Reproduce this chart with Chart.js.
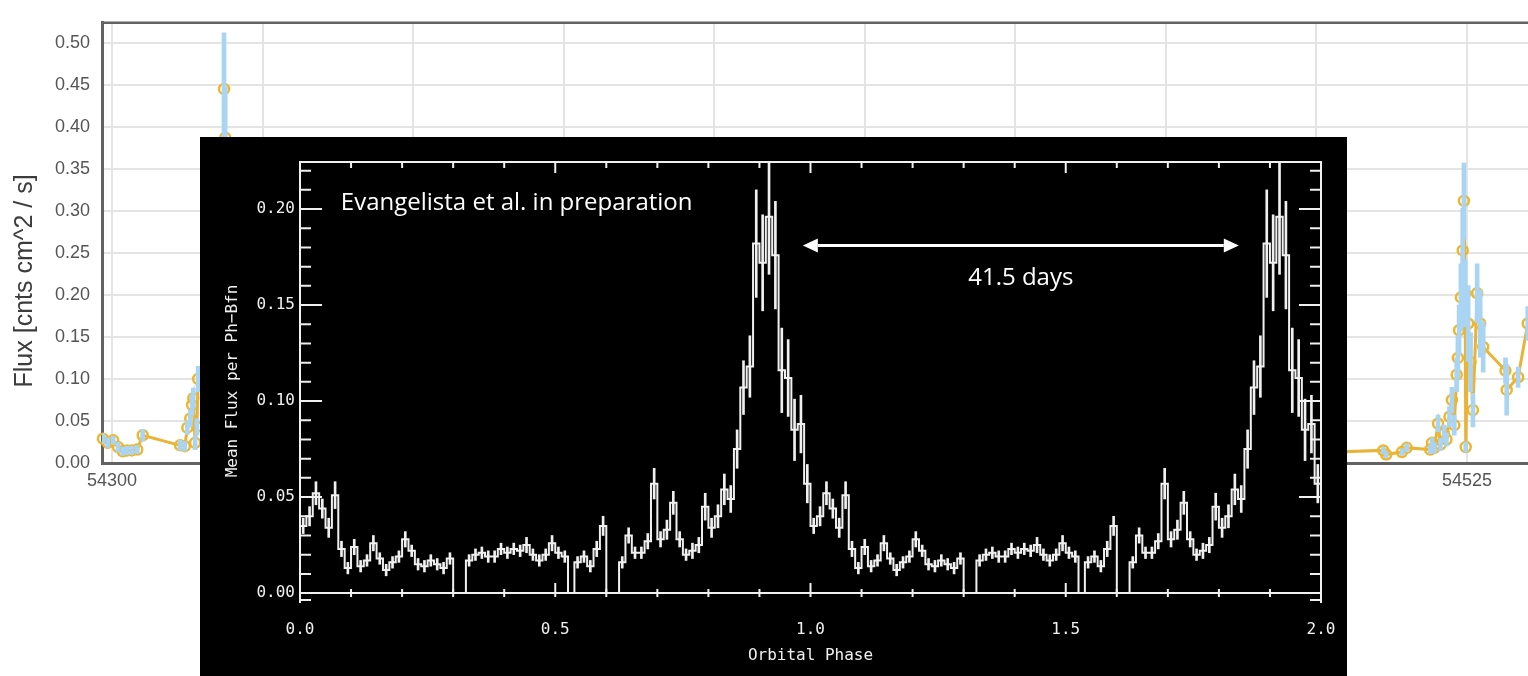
<!DOCTYPE html>
<html>
<head>
<meta charset="utf-8">
<title>Flux light curve and orbital phase profile</title>
<script src="https://cdn.jsdelivr.net/npm/chart.js@4.4.1/dist/chart.umd.min.js"></script>
<style>
  html, body { margin: 0; padding: 0; background: #fff; overflow: hidden; }
  #wrap { position: relative; width: 1528px; height: 676px; }
  #lightCurve { position: absolute; left: 0; top: 0; }
  #phasePanel { position: absolute; left: 200px; top: 137px; background: #000; }
</style>
</head>
<body>
<div id="wrap">
  <canvas id="lightCurve" width="1528" height="676"></canvas>
  <canvas id="phasePanel" width="1147" height="539"></canvas>
</div>
<script>
// light curve: MJD, flux and 1-sigma errors
const mjd = [
  54298.5, 54299.3, 54300.2, 54301.0, 54301.8, 54302.5, 54303.3, 54304.2, 54305.1,
  54311.3, 54312.1, 54312.5, 54313.0, 54313.3, 54313.5, 54313.8, 54314.1, 54314.3,
  54316.5, 54318.4, 54318.6, 54318.8, 54320.5, 54503.0,
  54511.1, 54511.6, 54514.2, 54515.0,
  54518.9, 54519.2, 54519.6, 54520.2, 54520.6, 54521.2, 54521.6, 54522.1, 54522.5,
  54522.9, 54523.3, 54523.5, 54523.7, 54524.0, 54524.3, 54524.5, 54524.7, 54524.8,
  54525.2, 54525.6, 54526.0, 54526.7, 54527.2, 54527.7, 54531.4, 54531.6, 54533.5,
  54535.1,
]
const flux = [
  0.029, 0.024, 0.027, 0.019, 0.014, 0.015, 0.015, 0.016, 0.033,
  0.021, 0.020, 0.042, 0.053, 0.069, 0.077, 0.024, 0.043, 0.100,
  0.160, 0.300, 0.445, 0.387, 0.060, 0.013,
  0.015, 0.010, 0.013, 0.018,
  0.016, 0.024, 0.018, 0.047, 0.022, 0.035, 0.028, 0.055, 0.075,
  0.045, 0.105, 0.125, 0.158, 0.197, 0.253, 0.312, 0.202, 0.019,
  0.166, 0.120, 0.063, 0.202, 0.166, 0.138, 0.110, 0.087, 0.102,
  0.166,
]
const fluxErr = [
  0.006, 0.006, 0.005, 0.006, 0.005, 0.005, 0.005, 0.005, 0.007,
  0.006, 0.006, 0.008, 0.010, 0.012, 0.012, 0.008, 0.010, 0.015,
  0.020, 0.040, 0.067, 0.060, 0.010, 0.004,
  0.004, 0.004, 0.004, 0.005,
  0.005, 0.006, 0.006, 0.010, 0.007, 0.010, 0.008, 0.012, 0.015,
  0.012, 0.020, 0.025, 0.030, 0.040, 0.050, 0.045, 0.040, 0.006,
  0.045, 0.035, 0.020, 0.035, 0.040, 0.030, 0.015, 0.030, 0.012,
  0.020,
]
const mjdTicks = [54300, 54325, 54350, 54375, 54400, 54425, 54450, 54475, 54500, 54525]
const fluxTicks = [0, 0.05, 0.1, 0.15, 0.2, 0.25, 0.3, 0.35, 0.4, 0.45, 0.5]

// folded profile: mean flux in 80 phase bins over one orbit
const meanFlux = [
  0.035, 0.040, 0.052, 0.044, 0.034, 0.051, 0.023, 0.013, 0.024, 0.014,
  0.017, 0.026, 0.018, 0.012, 0.016, 0.019, 0.028, 0.022, 0.015, 0.014,
  0.017, 0.015, 0.013, 0.018, 0.000, 0.000, 0.017, 0.020, 0.021, 0.019,
  0.019, 0.023, 0.021, 0.023, 0.022, 0.025, 0.020, 0.017, 0.020, 0.026,
  0.021, 0.019, 0.000, 0.016, 0.019, 0.014, 0.023, 0.035, 0.000, 0.000,
  0.016, 0.030, 0.021, 0.021, 0.027, 0.057, 0.028, 0.033, 0.047, 0.028,
  0.020, 0.022, 0.025, 0.045, 0.034, 0.040, 0.054, 0.049, 0.075, 0.107,
  0.118, 0.182, 0.172, 0.196, 0.176, 0.116, 0.112, 0.085, 0.088, 0.057,
]
const meanFluxErr = [
  0.004, 0.005, 0.006, 0.005, 0.005, 0.007, 0.004, 0.003, 0.004, 0.003,
  0.003, 0.004, 0.003, 0.003, 0.003, 0.003, 0.004, 0.003, 0.003, 0.003,
  0.003, 0.003, 0.003, 0.003, 0.000, 0.000, 0.003, 0.003, 0.003, 0.003,
  0.003, 0.003, 0.003, 0.003, 0.003, 0.004, 0.003, 0.003, 0.003, 0.004,
  0.003, 0.003, 0.000, 0.003, 0.003, 0.003, 0.004, 0.005, 0.000, 0.000,
  0.003, 0.004, 0.003, 0.003, 0.004, 0.008, 0.004, 0.005, 0.006, 0.004,
  0.003, 0.004, 0.004, 0.007, 0.005, 0.006, 0.008, 0.007, 0.010, 0.014,
  0.016, 0.028, 0.025, 0.030, 0.028, 0.022, 0.020, 0.016, 0.015, 0.010,
]
const phaseTicks = [0, 0.5, 1, 1.5, 2]
const meanFluxTicks = [0, 0.05, 0.1, 0.15, 0.2]

const creditNote = { text: 'Evangelista et al. in preparation', phase: 0.08, flux: 0.203 }
const periodNote = { text: '41.5 days', from: 0.985, to: 1.839, flux: 0.181, labelPhase: 1.412, labelFlux: 0.164 }

const sansFont = '"Liberation Sans", Arial, sans-serif'
const idlFont = '"DejaVu Sans Mono", monospace'
const ink = '#f0f0f0'

// ---------- background light curve ----------
const curvePoints = mjd.map((m, i) => ({ x: m, y: flux[i] }))
const curveErrors = mjd.map((m, i) => ({ x: m, y: [flux[i] - fluxErr[i], flux[i] + fluxErr[i]] }))

const curveFrame = {
  id: 'curveFrame',
  afterDraw(chart) {
    const { ctx, chartArea: a } = chart
    ctx.save()
    ctx.strokeStyle = '#626262'
    ctx.lineWidth = 2.5
    ctx.beginPath()
    ctx.moveTo(a.left, a.top)
    ctx.lineTo(a.right, a.top)
    ctx.stroke()
    ctx.translate(25, (a.top + a.bottom) / 2 + 38)
    ctx.rotate(-Math.PI / 2)
    ctx.font = '25px ' + sansFont
    ctx.fillStyle = '#3c3c3c'
    ctx.textAlign = 'center'
    ctx.textBaseline = 'middle'
    ctx.fillText('Flux [cnts cm^2 / s]', 0, 0)
    ctx.restore()
  },
}

new Chart(document.getElementById('lightCurve'), {
  type: 'line',
  data: {
    datasets: [
      {
        type: 'bar',
        data: curveErrors,
        backgroundColor: '#a9d4f4',
        borderWidth: 0,
        barThickness: 4,
        order: 0,
      },
      {
        type: 'line',
        data: curvePoints,
        borderColor: '#e8b337',
        borderWidth: 3,
        tension: 0,
        pointRadius: 5,
        pointBorderWidth: 2.5,
        pointBorderColor: '#efb62a',
        pointBackgroundColor: 'rgba(255,255,255,0)',
        clip: 8,
        order: 1,
      },
    ],
  },
  options: {
    responsive: false,
    animation: false,
    devicePixelRatio: 1,
    layout: { autoPadding: false, padding: { top: 22, right: 0, bottom: 0, left: 0 } },
    plugins: { legend: { display: false }, tooltip: { enabled: false } },
    scales: {
      x: {
        type: 'linear',
        min: 54298.34,
        max: 54535.14,
        offset: false,
        afterBuildTicks: (s) => { s.ticks = mjdTicks.map((v) => ({ value: v })) },
        afterFit: (s) => { s.height = 213 },
        grid: { color: '#e4e4e4', lineWidth: 2, drawTicks: false, offset: false },
        border: { color: '#626262', width: 3 },
        ticks: { color: '#555', font: { family: sansFont, size: 18 }, padding: 7, maxRotation: 0, autoSkip: false, callback: (v) => String(v) },
      },
      y: {
        type: 'linear',
        min: 0,
        max: 0.5238,
        afterBuildTicks: (s) => { s.ticks = fluxTicks.map((v) => ({ value: v })) },
        afterFit: (s) => { s.width = 102 },
        grid: { color: '#e4e4e4', lineWidth: 2, drawTicks: false },
        border: { color: '#626262', width: 3 },
        ticks: { color: '#555', font: { family: sansFont, size: 18 }, padding: 12, callback: (v) => v.toFixed(2) },
      },
    },
  },
  plugins: [curveFrame],
})

// ---------- inset: folded profile, two orbits ----------
const binWidth = 1 / meanFlux.length
const histPoints = []
const histErrors = []
for (let cycle = 0; cycle < 2; cycle++) {
  meanFlux.forEach((v, i) => {
    const start = cycle + i * binWidth
    histPoints.push({ x: start, y: v })
    if (meanFluxErr[i] > 0) {
      histErrors.push({ x: start + binWidth / 2, y: [v - meanFluxErr[i], v + meanFluxErr[i]] })
    }
  })
}
histPoints.push({ x: 2, y: meanFlux[meanFlux.length - 1] })

// IDL-style box: ticks pointing inward on every side, x axis drawn along zero
const idlAxes = {
  id: 'idlAxes',
  afterDatasetsDraw(chart) {
    const { ctx, chartArea: a, scales: { x, y } } = chart
    const y0 = y.getPixelForValue(0)
    ctx.save()
    ctx.strokeStyle = ink
    ctx.lineWidth = 2
    ctx.beginPath()
    ctx.moveTo(a.left, a.bottom + 3)
    ctx.lineTo(a.left, a.top)
    ctx.lineTo(a.right, a.top)
    ctx.lineTo(a.right, a.bottom + 3)
    ctx.moveTo(a.left, y0)
    ctx.lineTo(a.right, y0)
    ctx.moveTo(a.left, a.bottom)
    ctx.lineTo(a.left + 11, a.bottom)
    ctx.moveTo(a.right, a.bottom)
    ctx.lineTo(a.right - 11, a.bottom)
    for (let k = 0; k <= 20; k++) {
      const px = x.getPixelForValue(k / 10)
      const major = k % 5 === 0
      ctx.moveTo(px, a.top)
      ctx.lineTo(px, a.top + (major ? 11 : 6))
      ctx.moveTo(px, y0 + 4)
      ctx.lineTo(px, y0 - (major ? 10 : 4))
    }
    for (let k = 0; k <= 22; k++) {
      const py = y.getPixelForValue(k / 100)
      const len = k % 5 === 0 ? 22 : 11
      ctx.moveTo(a.left, py)
      ctx.lineTo(a.left + len, py)
      ctx.moveTo(a.right, py)
      ctx.lineTo(a.right - len, py)
    }
    ctx.stroke()
    ctx.restore()
  },
}

const panelNotes = {
  id: 'panelNotes',
  afterDraw(chart) {
    const { ctx, scales: { x, y } } = chart
    ctx.save()
    ctx.fillStyle = '#fff'
    ctx.strokeStyle = '#fff'
    ctx.font = '24px "Open Sans", sans-serif'
    ctx.textBaseline = 'middle'
    ctx.textAlign = 'left'
    ctx.fillText(creditNote.text, x.getPixelForValue(creditNote.phase), y.getPixelForValue(creditNote.flux))
    ctx.textAlign = 'center'
    ctx.fillText(periodNote.text, x.getPixelForValue(periodNote.labelPhase), y.getPixelForValue(periodNote.labelFlux))

    const x1 = x.getPixelForValue(periodNote.from)
    const x2 = x.getPixelForValue(periodNote.to)
    const ya = y.getPixelForValue(periodNote.flux)
    const head = 15
    const half = 7
    ctx.lineWidth = 3
    ctx.beginPath()
    ctx.moveTo(x1 + head, ya)
    ctx.lineTo(x2 - head, ya)
    ctx.stroke()
    ctx.beginPath()
    ctx.moveTo(x1, ya)
    ctx.lineTo(x1 + head, ya - half)
    ctx.lineTo(x1 + head, ya + half)
    ctx.closePath()
    ctx.moveTo(x2, ya)
    ctx.lineTo(x2 - head, ya - half)
    ctx.lineTo(x2 - head, ya + half)
    ctx.closePath()
    ctx.fill()
    ctx.restore()
  },
}

new Chart(document.getElementById('phasePanel'), {
  type: 'line',
  data: {
    datasets: [
      {
        type: 'line',
        data: histPoints,
        borderColor: ink,
        borderWidth: 2,
        stepped: 'before',
        pointRadius: 0,
        fill: false,
      },
      {
        type: 'bar',
        data: histErrors,
        backgroundColor: ink,
        borderWidth: 0,
        barThickness: 2,
      },
    ],
  },
  options: {
    responsive: false,
    animation: false,
    devicePixelRatio: 1,
    layout: { autoPadding: false, padding: { top: 25, right: 26, bottom: 0, left: 0 } },
    plugins: { legend: { display: false }, tooltip: { enabled: false } },
    scales: {
      x: {
        type: 'linear',
        min: 0,
        max: 2,
        offset: false,
        afterBuildTicks: (s) => { s.ticks = phaseTicks.map((v) => ({ value: v })) },
        afterFit: (s) => { s.height = 76 },
        grid: { display: false, drawTicks: false, offset: false },
        border: { display: false },
        // small padding keeps the end labels from squeezing the plot; line height pushes them down
        ticks: { color: ink, font: { family: idlFont, size: 16, lineHeight: 2.5 }, padding: 10, maxRotation: 0, callback: (v) => v.toFixed(1) },
        title: { display: true, text: 'Orbital Phase', color: ink, font: { family: idlFont, size: 16 }, padding: { top: 0, bottom: 11 } },
      },
      y: {
        type: 'linear',
        min: -0.0036,
        max: 0.2245,
        afterBuildTicks: (s) => { s.ticks = meanFluxTicks.map((v) => ({ value: v })) },
        afterFit: (s) => { s.width = 100 },
        grid: { display: false, drawTicks: false },
        border: { display: false },
        ticks: { color: ink, font: { family: idlFont, size: 16 }, padding: 5, callback: (v) => v.toFixed(2) },
        title: { display: true, text: 'Mean Flux per Ph\u2212Bfn', color: ink, font: { family: idlFont, size: 16 }, padding: { top: 23, bottom: 0 } },
      },
    },
  },
  plugins: [idlAxes, panelNotes],
})
</script>
</body>
</html>
